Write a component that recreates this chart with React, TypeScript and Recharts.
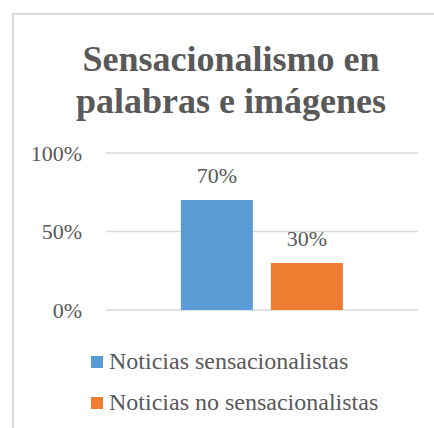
import React from "react";
import { BarChart, Bar, XAxis, YAxis, CartesianGrid, LabelList } from "recharts";

const categories: string[] = ["Sensacionalismo"];
const seriesNames: string[] = ["Noticias sensacionalistas", "Noticias no sensacionalistas"];
const sensacionalistas: number[] = [0.7];
const noSensacionalistas: number[] = [0.3];
const yTicks: number[] = [0, 0.5, 1];

const colors = ["#5B9BD5", "#ED7D31"];
const textColor = "#595959";
const font = "'Liberation Serif', 'Times New Roman', serif";

const data = categories.map((c, i) => ({
  name: c,
  sens: sensacionalistas[i],
  nosens: noSensacionalistas[i],
}));

const pct = (v: number) => `${Math.round(v * 100)}%`;

const App: React.FC = () => {
  return (
    <div style={{ position: "relative", width: 434, height: 428, overflow: "hidden", background: "#fff" }}>
      <style>{"body{margin:0;overflow:hidden}"}</style>
      <div
        style={{
          position: "absolute",
          left: 12,
          top: 13,
          width: 460,
          height: 460,
          borderLeft: "2px solid #d9d9d9",
          borderTop: "2px solid #d9d9d9",
          boxSizing: "border-box",
        }}
      />
      <div
        style={{
          position: "absolute",
          left: 0,
          width: 462,
          top: 38,
          textAlign: "center",
          fontFamily: font,
          fontWeight: "bold",
          fontSize: 36,
          lineHeight: "42px",
          color: textColor,
        }}
      >
        Sensacionalismo en
        <br />
        palabras e imágenes
      </div>
      <div style={{ position: "absolute", left: 0, top: 0 }}>
        <BarChart
          width={434}
          height={428}
          data={data}
          margin={{ top: 153, right: 16, left: 0, bottom: 118 }}
          barCategoryGap="24%"
          barGap={18}
        >
          <CartesianGrid vertical={false} stroke="#d9d9d9" strokeWidth={1.5} />
          <XAxis dataKey="name" hide />
          <YAxis
            width={106}
            domain={[0, 1]}
            ticks={yTicks}
            tickFormatter={pct}
            axisLine={false}
            tickLine={false}
            tickSize={0}
            tickMargin={24}
            tick={{ fill: textColor, fontSize: 22, fontFamily: font }}
          />
          <Bar dataKey="sens" name={seriesNames[0]} fill={colors[0]} isAnimationActive={false}>
            <LabelList dataKey="sens" position="top" offset={17} formatter={(v: any) => pct(Number(v))} fill={textColor} fontSize={22} fontFamily={font} />
          </Bar>
          <Bar dataKey="nosens" name={seriesNames[1]} fill={colors[1]} isAnimationActive={false}>
            <LabelList dataKey="nosens" position="top" offset={17} formatter={(v: any) => pct(Number(v))} fill={textColor} fontSize={22} fontFamily={font} />
          </Bar>
        </BarChart>
      </div>
      <div style={{ position: "absolute", left: 91, top: 341, fontFamily: font, color: textColor, fontSize: 24 }}>
        {seriesNames.map((n, i) => (
          <div key={n} style={{ display: "flex", alignItems: "center", height: 41, whiteSpace: "nowrap" }}>
            <span style={{ width: 12, height: 12, background: colors[i], marginRight: 6, display: "inline-block" }} />
            <span>{n}</span>
          </div>
        ))}
      </div>
    </div>
  );
};

export default App;
